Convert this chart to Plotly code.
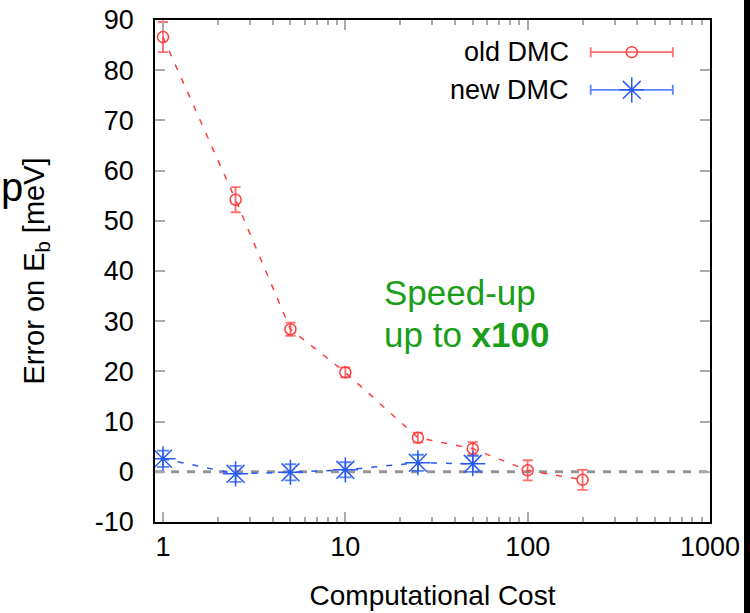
import plotly.graph_objects as go

# ---- data ----
cost = [1, 2.5, 5, 10, 25, 50, 100, 200]
old_err = [86.6, 54.2, 28.4, 19.8, 6.8, 4.6, 0.3, -1.6]
old_bar = [3.0, 2.5, 1.3, 1.0, 1.0, 1.3, 2.0, 2.0]

cost_new = [1, 2.5, 5, 10, 25, 50]
new_err = [2.6, -0.4, -0.1, 0.4, 1.8, 1.6]
new_bar = [1.6, 1.6, 1.6, 1.5, 1.6, 1.6]

x_ticks = [1, 10, 100, 1000]
x_tick_text = ["1", "10", "100", "1000"]
y_ticks = list(range(-10, 91, 10))
y_tick_text = [str(v) for v in y_ticks]
reference_y = 0

RED = "rgb(255,60,60)"
RED_BAR = "rgba(255,60,60,0.75)"
BLUE = "rgb(40,90,245)"
BLUE_BAR = "rgba(40,90,245,0.75)"
GREEN = "rgb(26,158,26)"
FONT = "Liberation Sans, Arial, sans-serif"

fig = go.Figure()

# reference line at zero
fig.add_shape(type="line", xref="paper", x0=0, x1=1, yref="y",
              y0=reference_y, y1=reference_y,
              line=dict(color="rgb(150,150,150)", width=3, dash="8px,8px"),
              layer="below")

fig.add_trace(go.Scatter(
    x=cost, y=old_err, mode="lines+markers", name="old DMC",
    line=dict(color=RED, width=1.5, dash="6px,9px"),
    marker=dict(symbol="circle-open", size=11, color=RED, line=dict(width=1.5)),
    error_y=dict(type="data", array=old_bar, color=RED_BAR, thickness=1.8, width=5),
    showlegend=False))

fig.add_trace(go.Scatter(
    x=cost_new, y=new_err, mode="lines+markers", name="new DMC",
    line=dict(color=BLUE, width=1.5, dash="6px,9px"),
    marker=dict(symbol="asterisk-open", size=21, color=BLUE, line=dict(width=1.5, color=BLUE)),
    error_y=dict(type="data", array=new_bar, color=BLUE_BAR, thickness=1.8, width=6),
    showlegend=False))

# gnuplot-style legend samples on a hidden overlay axis
legend_names = ["old DMC", "new DMC"]
legend_y = [0.936, 0.861]
legend_colors = [RED, BLUE]
legend_bar_colors = [RED_BAR, BLUE_BAR]
legend_symbols = ["circle-open", "asterisk-open"]
legend_sizes = [11, 21]
for name, yy, c, cb, s, sz in zip(legend_names, legend_y, legend_colors,
                                   legend_bar_colors, legend_symbols, legend_sizes):
    fig.add_trace(go.Scatter(
        x=[0.859], y=[yy], xaxis="x2", yaxis="y2", mode="markers",
        marker=dict(symbol=s, size=sz, color=c, line=dict(width=1.5, color=c)),
        error_x=dict(type="constant", value=0.074, color=cb, thickness=1.8, width=5),
        showlegend=False, hoverinfo="skip"))
    fig.add_annotation(x=0.750, y=yy, xref="paper", yref="paper", text=name,
                       showarrow=False, xanchor="right", yanchor="middle",
                       font=dict(family=FONT, size=27, color="black"))

fig.add_annotation(x=0.409, y=0.458, xref="paper", yref="paper",
                   text="Speed-up", showarrow=False,
                   xanchor="left", yanchor="middle", align="left",
                   font=dict(family=FONT, size=35, color=GREEN))
fig.add_annotation(x=0.409, y=0.374, xref="paper", yref="paper",
                   text="up to <b>x100</b>", showarrow=False,
                   xanchor="left", yanchor="middle", align="left",
                   font=dict(family=FONT, size=35, color=GREEN))

fig.add_annotation(x=-0.281, y=0.668, xref="paper", yref="paper", text="p",
                   showarrow=False, xanchor="left", yanchor="middle",
                   font=dict(family=FONT, size=40, color="black"))

# black strip on the right edge
fig.add_shape(type="rect", xref="paper", yref="paper", x0=1.0613, x1=1.2,
              y0=-0.5, y1=1.5, fillcolor="black", line=dict(width=0))

axis_common = dict(showgrid=False, zeroline=False, showline=True, linecolor="black",
                   linewidth=1.5, mirror="allticks", ticks="inside", ticklen=10,
                   tickwidth=1.5, tickcolor="rgb(170,170,170)", automargin=False,
                   tickfont=dict(family=FONT, size=27, color="black"))

fig.update_layout(
    width=750, height=613,
    margin=dict(l=155, r=40, t=20, b=91),
    paper_bgcolor="white", plot_bgcolor="white",
    xaxis=dict(type="log", range=[-0.0439, 3], tickvals=x_ticks, ticktext=x_tick_text,
               minor=dict(ticks="inside", ticklen=5, tickwidth=1.5,
                          tickcolor="rgb(170,170,170)",
                          tickvals=[m * 10 ** k for k in range(3) for m in range(2, 10)]),
               title=dict(text="Computational Cost", standoff=24,
                          font=dict(family=FONT, size=28, color="black")),
               ticklabelstandoff=0,
               **axis_common),
    yaxis=dict(range=[-10, 90], tickvals=y_ticks, ticktext=y_tick_text,
               title=dict(text="Error on E<sub>b</sub> [meV]", standoff=42,
                          font=dict(family=FONT, size=29, color="black")),
               ticklabelstandoff=14,
               **axis_common),
    xaxis2=dict(overlaying="x", range=[0, 1], visible=False),
    yaxis2=dict(overlaying="y", range=[0, 1], visible=False),
    showlegend=False,
)

fig.write_html("out.html")
